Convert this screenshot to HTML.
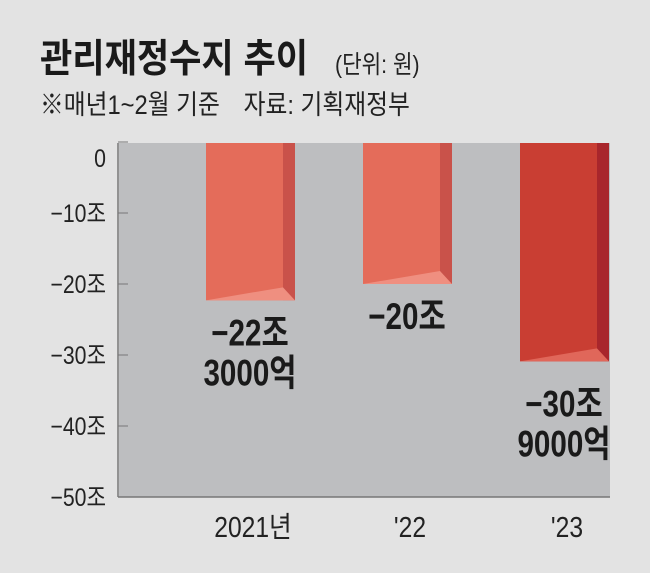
<!DOCTYPE html>
<html><head><meta charset="utf-8"><style>
body{margin:0;background:#e3e3e3;}
svg{display:block;font-family:"Liberation Sans","Noto Sans CJK KR",sans-serif;}
</style></head><body>
<svg id="c" width="650" height="573" viewBox="0 0 650 573">
<rect width="650" height="573" fill="#e3e3e3"/>
<text x="40" y="72" font-size="39" font-weight="bold" fill="#1a1a1a" transform="translate(40 0) scale(0.9 1) translate(-40 0)">관리재정수지 추이</text>
<text x="335" y="73" font-size="25" fill="#222" transform="translate(335 0) scale(0.85 1) translate(-335 0)">(단위: 원)</text>
<text x="40" y="114" font-size="27" fill="#222" transform="translate(40 0) scale(0.88 1) translate(-40 0)">※매년1~2월 기준　자료: 기획재정부</text>
<rect x="119" y="143" width="491" height="354" fill="#bdbec0"/>
<g id="axis"></g>
<g id="bars"></g>
</svg>
<script>
const categories=["2021년","'22","'23"];
const values=[-22.3,-20,-30.9];
const labelLines=[["−22조","3000억"],["−20조"],["−30조","9000억"]];
const ticks=[0,-10,-20,-30,-40,-50];
const tickLabels=["0","−10조","−20조","−30조","−40조","−50조"];
const NS="http://www.w3.org/2000/svg";
const y0=142,pxPer=7.1,plotL=118,plotR=610;
const y=v=>y0-v*pxPer;
const barX=i=>206+i*157;
const svg=document.getElementById('c'),ax=document.getElementById('axis'),bg=document.getElementById('bars');
function mk(tag,a,p){const e=document.createElementNS(NS,tag);for(const k in a)e.setAttribute(k,a[k]);p.appendChild(e);return e;}
let l=mk('line',{x1:plotL,y1:143,x2:plotL,y2:497,stroke:'#777','stroke-width':1.5},ax);


l=mk('line',{x1:plotL,y1:497,x2:plotR,y2:497,stroke:'#777','stroke-width':1.5},ax);


ticks.forEach((t,i)=>{
 const ty=y(t);
 const tk=mk('line',{x1:plotL,y1:ty,x2:plotL+10,y2:ty,stroke:'#777','stroke-width':1},ax);
 
 
 const tx=mk('text',{x:106,y:(i==0?ty+25:ty+9),'font-size':25,'text-anchor':'end',fill:'#222',transform:`translate(106 0) scale(0.85 1) translate(-106 0)`},ax);
 tx.textContent=tickLabels[i];
 
 
});
const cols=[["#e46c5a","#c9524a","#ef8f80"],["#e46c5a","#c9524a","#ef8f80"],["#c93e33","#a8262c","#e0675a"]];
values.forEach((v,i)=>{
 const x=barX(i),w=77,s=12,b=y(v),top=143;
 const g=mk('g',{},bg);
 
 
 mk('rect',{x:x,y:top,width:w,height:b-top,fill:cols[i][0]},g);
 mk('rect',{x:x+w,y:top,width:s,height:b-top,fill:cols[i][1]},g);
 mk('polygon',{points:`${x},${b} ${x+w},${b-13} ${x+w+s},${b}`,fill:cols[i][2]},g);
 const cx=x+44;
 const lab=mk('text',{x:cx,y:0,'font-size':37,'font-weight':'bold','text-anchor':'middle',fill:'#1a1a1a',transform:`translate(${cx} 0) scale(0.8 1) translate(${-cx} 0)`},bg);
 
 
 labelLines[i].forEach((t,j)=>{const sp=mk('tspan',{x:cx,y:b+(i==2?55:45)+j*40},lab);sp.textContent=t;});
 const c=mk('text',{x:cx+3,y:537,'font-size':29,'text-anchor':'middle',fill:'#222',transform:`translate(${cx+3} 0) scale(0.85 1) translate(${-cx-3} 0)`},ax);
 c.textContent=categories[i];
 
 
});
</script>
</body></html>
